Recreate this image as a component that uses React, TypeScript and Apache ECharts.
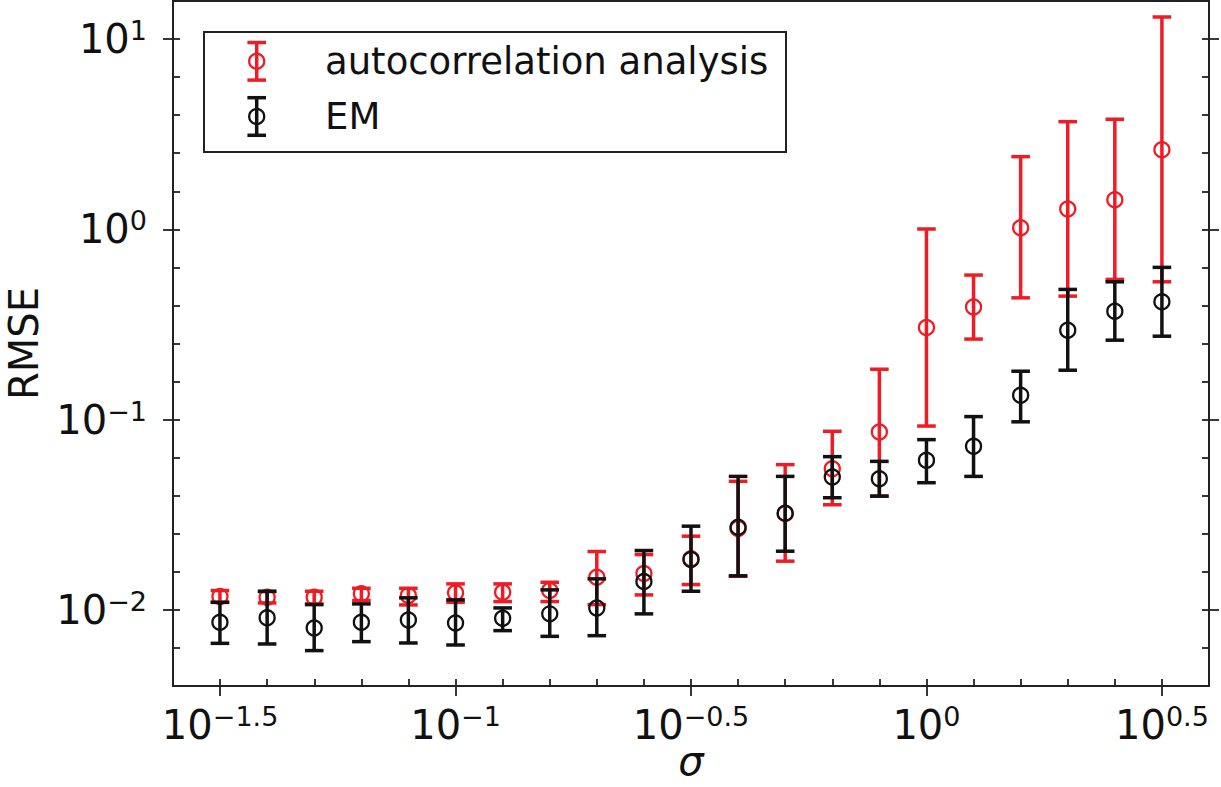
import React, { useEffect, useRef } from "react";
import * as echarts from "echarts";

// sigma values (x), 10^(-1.5 + 0.1k)
const sigma = [
  0.0316, 0.0398, 0.0501, 0.0631, 0.0794, 0.1, 0.1259, 0.1585, 0.1995, 0.2512,
  0.3162, 0.3981, 0.5012, 0.631, 0.7943, 1.0, 1.2589, 1.5849, 1.9953, 2.5119, 3.1623,
];

// autocorrelation analysis
const acRmse = [
  0.01175, 0.01165, 0.01165, 0.01214, 0.01189, 0.01229, 0.01238, 0.01264, 0.01484, 0.01552,
  0.01855, 0.0268, 0.0321, 0.0552, 0.0861, 0.305, 0.391, 1.02, 1.28, 1.43, 2.62,
];
const acLow = [
  0.01096, 0.01088, 0.01075, 0.01119, 0.01062, 0.01096, 0.01106, 0.01106, 0.01066, 0.01199,
  0.01359, 0.01502, 0.01803, 0.0357, 0.0396, 0.0925, 0.265, 0.4365, 0.4456, 0.5456, 0.53,
];
const acHigh = [
  0.01264, 0.01248, 0.01253, 0.01299, 0.01299, 0.0137, 0.0137, 0.01397, 0.02027, 0.01954,
  0.0244, 0.0474, 0.058, 0.0868, 0.184, 1.004, 0.575, 2.41, 3.68, 3.79, 13.06,
];

// EM
const emRmse = [
  0.0086, 0.00908, 0.00804, 0.0086, 0.00886, 0.00854, 0.00903, 0.00953, 0.01024, 0.01409,
  0.0184, 0.02721, 0.03225, 0.04988, 0.04892, 0.06107, 0.07236, 0.1342, 0.2951, 0.3715, 0.4159,
];
const emLow = [
  0.00667, 0.00662, 0.00611, 0.00681, 0.0067, 0.00654, 0.00778, 0.00726, 0.00732, 0.00953,
  0.01253, 0.0151, 0.02034, 0.03886, 0.03962, 0.0466, 0.0503, 0.09736, 0.1818, 0.2615, 0.2744,
];
const emHigh = [
  0.01096, 0.01253, 0.01066, 0.01075, 0.01157, 0.01129, 0.01024, 0.01274, 0.01456, 0.02051,
  0.02754, 0.0503, 0.0503, 0.06388, 0.06033, 0.07848, 0.1037, 0.1796, 0.4833, 0.53, 0.631,
];

// tick positions (log10 exponents)
const xMajorExps = [-1.5, -1, -0.5, 0, 0.5];
const xMinorExps = [
  -1.5, -1.4, -1.3, -1.2, -1.1, -1.0, -0.9, -0.8, -0.7, -0.6, -0.5,
  -0.4, -0.3, -0.2, -0.1, 0, 0.1, 0.2, 0.3, 0.4, 0.5,
];
const yMajorExps = [-2, -1, 0, 1];
const yMinorExps = [-2.2, -2.0, -1.8, -1.6, -1.4, -1.2, -1.0, -0.8, -0.6, -0.4, -0.2, 0, 0.2, 0.4, 0.6, 0.8, 1.0];

const seriesNames = ["autocorrelation analysis", "EM"];

const RED = "#ee1c24";
const BLACK = "#111111";
const AXIS = "#222222";
const FONT = "DejaVu Sans";

function supLabel(v: number) {
  const s = String(v).replace("-", "\u2212");
  return `{b|10}{s|${s}}`;
}

const labelRich = {
  b: { fontSize: 40, fontFamily: FONT, color: BLACK, lineHeight: 44, verticalAlign: "middle" },
  s: { fontSize: 27, fontFamily: FONT, color: BLACK, lineHeight: 28, verticalAlign: "top" },
};

function makeErrorSeries(name: string, color: string, center: number[], low: number[], high: number[]) {
  const data = sigma.map((s, i) => [
    Math.log10(s),
    Math.log10(center[i]),
    Math.log10(low[i]),
    Math.log10(high[i]),
  ]);
  return {
    type: "custom",
    name,
    xAxisIndex: 0,
    yAxisIndex: 0,
    encode: { x: 0, y: [1, 2, 3] },
    data,
    clip: true,
    renderItem: (params: any, api: any) => {
      const x = api.value(0);
      const pc = api.coord([x, api.value(1)]);
      const pl = api.coord([x, api.value(2)]);
      const ph = api.coord([x, api.value(3)]);
      const cw = 9.3;
      const lw = 3.5;
      return {
        type: "group",
        children: [
          { type: "line", shape: { x1: pc[0], y1: ph[1], x2: pc[0], y2: pl[1] }, style: { stroke: color, lineWidth: lw } },
          { type: "line", shape: { x1: pc[0] - cw, y1: ph[1], x2: pc[0] + cw, y2: ph[1] }, style: { stroke: color, lineWidth: lw } },
          { type: "line", shape: { x1: pc[0] - cw, y1: pl[1], x2: pc[0] + cw, y2: pl[1] }, style: { stroke: color, lineWidth: lw } },
          { type: "circle", shape: { cx: pc[0], cy: pc[1], r: 7.5 }, style: { fill: "none", stroke: color, lineWidth: 2.3 } },
        ],
      };
    },
  };
}

function legendIcon(cx: number, cy: number, color: string) {
  const half = 18.8;
  const cw = 9.3;
  return [
    { type: "line", z: 101, shape: { x1: cx, y1: cy - half, x2: cx, y2: cy + half }, style: { stroke: color, lineWidth: 3.5 } },
    { type: "line", z: 101, shape: { x1: cx - cw, y1: cy - half, x2: cx + cw, y2: cy - half }, style: { stroke: color, lineWidth: 3.5 } },
    { type: "line", z: 101, shape: { x1: cx - cw, y1: cy + half, x2: cx + cw, y2: cy + half }, style: { stroke: color, lineWidth: 3.5 } },
    { type: "circle", z: 102, shape: { cx, cy, r: 7.5 }, style: { fill: "none", stroke: color, lineWidth: 2.3 } },
  ];
}

export default function App() {
  const ref = useRef<HTMLDivElement>(null);

  useEffect(() => {
    if (!ref.current) return;
    const chart = echarts.init(ref.current, undefined, { renderer: "svg" });

    const tickStyle = { color: AXIS, width: 1.8 };
    const baseX = { type: "value", min: -1.6, max: 0.6, splitLine: { show: false } };
    const baseY = { type: "value", min: -2.4, max: 1.2, splitLine: { show: false } };

    chart.setOption({
      animation: false,
      backgroundColor: "#ffffff",
      grid: {
        left: 173,
        right: 12,
        top: 1,
        bottom: 101,
        show: true,
        borderColor: AXIS,
        borderWidth: 2,
        containLabel: false,
        outerBoundsMode: "none",
      },
      xAxis: [
        {
          ...baseX,
          position: "bottom",
          axisLine: { show: true, onZero: false, lineStyle: { color: AXIS, width: 2 } },
          axisTick: { show: true, inside: true, length: 7, customValues: xMinorExps, lineStyle: tickStyle },
          axisLabel: {
            show: true,
            customValues: xMajorExps,
            margin: 17,
            formatter: supLabel,
            rich: labelRich,
          },
          name: "σ",
          nameLocation: "middle",
          nameGap: 59,
          nameMoveOverlap: false,
          nameTextStyle: { fontSize: 40, fontFamily: FONT, fontStyle: "italic", color: BLACK, lineHeight: 32 },
        },
        {
          ...baseX,
          position: "bottom",
          axisLine: { show: false, onZero: false },
          axisTick: { show: true, inside: false, length: 10, customValues: xMajorExps, lineStyle: tickStyle },
          axisLabel: { show: false },
        },
      ],
      yAxis: [
        {
          ...baseY,
          position: "left",
          axisLine: { show: true, onZero: false, lineStyle: { color: AXIS, width: 2 } },
          axisTick: { show: true, inside: true, length: 7, customValues: yMinorExps, lineStyle: tickStyle },
          axisLabel: {
            show: true,
            customValues: yMajorExps,
            margin: 26,
            formatter: supLabel,
            rich: labelRich,
          },
          name: "RMSE",
          nameLocation: "middle",
          nameGap: 133,
          nameMoveOverlap: false,
          nameTextStyle: { fontSize: 40, fontFamily: FONT, color: BLACK, lineHeight: 32 },
        },
        {
          ...baseY,
          position: "left",
          axisLine: { show: false, onZero: false },
          axisTick: { show: true, inside: false, length: 10, customValues: yMajorExps, lineStyle: tickStyle },
          axisLabel: { show: false },
        },
        {
          ...baseY,
          position: "right",
          axisLine: { show: true, onZero: false, lineStyle: { color: AXIS, width: 2 } },
          axisTick: { show: true, inside: true, length: 7, customValues: yMinorExps, lineStyle: tickStyle },
          axisLabel: { show: false },
        },
        {
          ...baseY,
          position: "right",
          axisLine: { show: false, onZero: false },
          axisTick: { show: true, inside: false, length: 10, customValues: yMajorExps, lineStyle: tickStyle },
          axisLabel: { show: false },
        },
      ],
      series: [
        makeErrorSeries(seriesNames[0], RED, acRmse, acLow, acHigh),
        makeErrorSeries(seriesNames[1], BLACK, emRmse, emLow, emHigh),
      ],
      graphic: [
        {
          type: "rect",
          z: 100,
          shape: { x: 204, y: 32, width: 582, height: 120 },
          style: { fill: "#ffffff", stroke: AXIS, lineWidth: 2 },
        },
        ...legendIcon(256.7, 61.3, RED),
        ...legendIcon(256.7, 116.5, BLACK),
        {
          type: "text",
          z: 103,
          style: {
            x: 325,
            y: 61.5,
            text: seriesNames[0],
            fontSize: 37,
            fontFamily: FONT,
            fill: BLACK,
            verticalAlign: "middle",
          },
        },
        {
          type: "text",
          z: 103,
          style: {
            x: 325,
            y: 116,
            text: seriesNames[1],
            fontSize: 37,
            fontFamily: FONT,
            fill: BLACK,
            verticalAlign: "middle",
          },
        },
      ],
    });

    return () => {
      chart.dispose();
    };
  }, []);

  return (
    <div
      ref={ref}
      style={{ position: "absolute", left: 0, top: 0, width: 1221, height: 787, background: "#fff" }}
    />
  );
}
